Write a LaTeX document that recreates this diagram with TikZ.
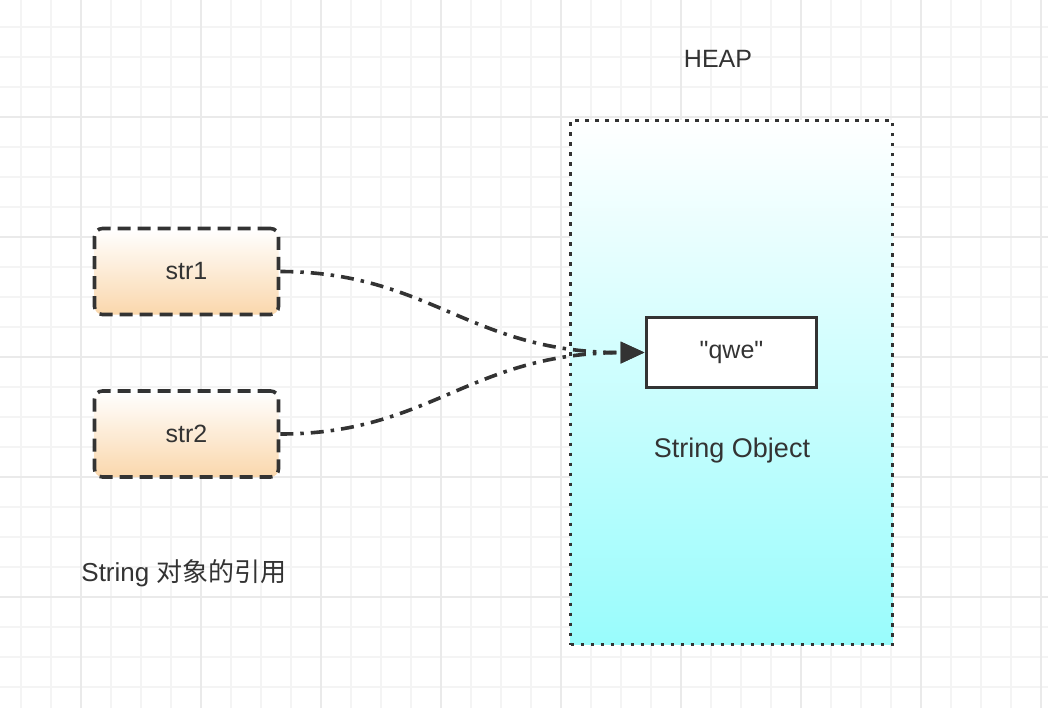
\documentclass[tikz,border=0pt]{standalone}
\usepackage{fontspec}
\setmainfont{Liberation Sans}
\newfontfamily\cjk{Noto Sans CJK SC}
\usetikzlibrary{arrows.meta}
\definecolor{ink}{HTML}{333333}
\definecolor{gridminor}{HTML}{F4F4F4}
\definecolor{gridmajor}{HTML}{EAEAEA}
\definecolor{peach}{HTML}{FAD7AC}
\definecolor{aqua}{HTML}{99FCFC}
\tikzset{
  lbl/.style={text=ink, font=\fontsize{26}{30}\selectfont, inner sep=0pt},
  refbox/.style={draw=ink, line width=3.6pt, dash pattern=on 13pt off 7pt, rounded corners=8pt,
    top color=white, bottom color=peach, minimum width=184pt, minimum height=86pt,
    text=ink, font=\fontsize{25}{30}\selectfont},
  heapbox/.style={draw=ink, line width=3.6pt, dash pattern=on 3.6pt off 6.4pt,
    top color=white, bottom color=aqua, minimum width=322pt, minimum height=524pt},
  valbox/.style={draw=ink, line width=3.8pt, fill=white, minimum width=170pt, minimum height=70pt,
    text=ink, font=\fontsize{25}{30}\selectfont},
  refline/.style={draw=ink, line width=3.6pt, dash pattern=on 13pt off 7pt on 3.5pt off 7pt,
    -{Triangle[length=24pt,width=21pt]}}
}
\begin{document}
\begin{tikzpicture}[x=1pt,y=-1pt]
\useasboundingbox (0,0) rectangle (1048,708);
\fill[white] (0,0) rectangle (1048,708);
% grid
\foreach \x in {21,51,...,1041} \draw[gridminor, line width=1.6pt] (\x,0) -- (\x,708);
\foreach \y in {27,57,...,707} \draw[gridminor, line width=1.6pt] (0,\y) -- (1048,\y);
\foreach \x in {81,201,...,1041} \draw[gridmajor, line width=1.6pt] (\x,0) -- (\x,708);
\foreach \y in {117,237,...,707} \draw[gridmajor, line width=1.6pt] (0,\y) -- (1048,\y);
% heap
\node[heapbox] (heap) at (731.5,382.5) {};
\node[lbl, font=\fontsize{25}{30}\selectfont] (heaplbl) at (718,59) {HEAP};
\node[lbl, font=\fontsize{27}{30}\selectfont] (strobj) at (732,451) {String Object};
\node[valbox] (qwe) at (731.5,352.5) {\textquotedbl qwe\textquotedbl};
% references
\node[refbox] (str1) at (186.5,271.5) {str1};
\node[refbox] (str2) at (186.5,434) {str2};
\node[lbl] (reflbl) at (184,573) {String {\cjk 对象的引用}};
% connectors
\draw[refline] (str1.east) .. controls (430,272) and (470,353) .. (qwe.west);
\draw[refline] (str2.east) .. controls (430,434) and (470,353) .. (qwe.west);
\end{tikzpicture}
\end{document}
